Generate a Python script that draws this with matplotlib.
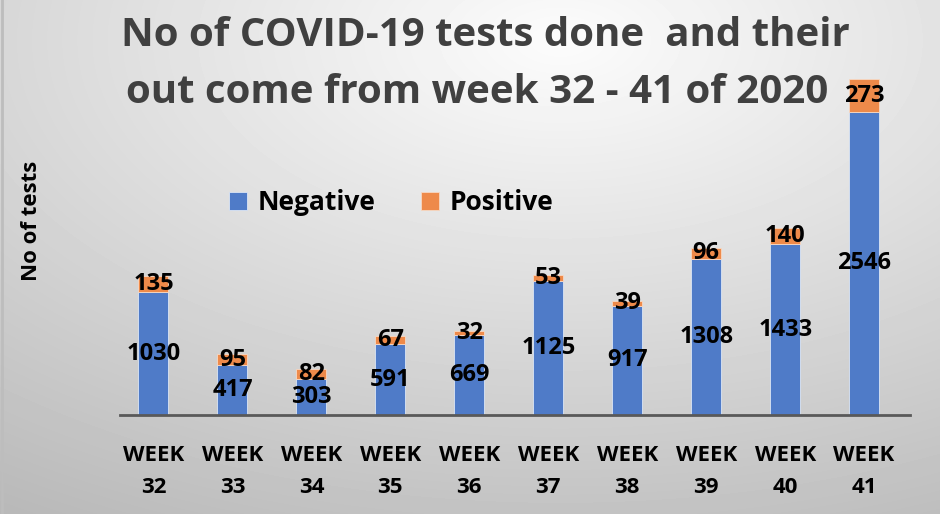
import numpy as np
import matplotlib.pyplot as plt

## Datos
semanas = ['WEEK\n32', 'WEEK\n33', 'WEEK\n34', 'WEEK\n35', 'WEEK\n36',
           'WEEK\n37', 'WEEK\n38', 'WEEK\n39', 'WEEK\n40', 'WEEK\n41']
negativos = [1030, 417, 303, 591, 669, 1125, 917, 1308, 1433, 2546]
positivos = [135, 95, 82, 67, 32, 53, 39, 96, 140, 273]

azul = '#4F7BC8'
naranja = '#EE8A4A'
fuente = ['Open Sans', 'DejaVu Sans']
plt.rcParams['font.family'] = fuente
plt.rcParams['font.weight'] = 'bold'

fig = plt.figure(figsize=(9.4, 5.14), dpi=100)

# fondo degradado (blanco arriba, gris hacia los bordes)
fondo = fig.add_axes([0, 0, 1, 1], zorder=-10)
yy, xx = np.mgrid[0:514, 0:940]
d = np.sqrt(((xx - 560) / 940.0) ** 2 + ((yy - 40) / 514.0) ** 2)
gris = np.clip(252 - 62 * d, 180, 255) / 255.0
fondo.imshow(gris, cmap='gray', vmin=0, vmax=1, aspect='auto', extent=[0, 1, 0, 1])
fondo.plot([0.002, 0.002], [0, 1], color='#bdbdbd', lw=2)
fondo.set_xlim(0, 1)
fondo.set_ylim(0, 1)
fondo.axis('off')

ax = fig.add_axes([0.128, 0.193, 0.84, 0.69])
ax.patch.set_alpha(0)
x = np.arange(len(semanas))
ancho = 0.38
ax.bar(x, negativos, ancho, color=azul, label='Negative', edgecolor='#dce6f5', linewidth=0.6)
ax.bar(x, positivos, ancho, bottom=negativos, color=naranja, label='Positive',
       edgecolor='#f7d9c4', linewidth=0.6)

# etiquetas de valores centradas en cada segmento
for i in range(len(semanas)):
    ax.text(x[i], negativos[i] / 2.0, str(negativos[i]), ha='center', va='center',
            fontsize=17, fontweight='bold', color='black')
    ax.text(x[i], negativos[i] + positivos[i] / 2.0, str(positivos[i]), ha='center',
            va='center', fontsize=17, fontweight='bold', color='black')

ax.set_xlim(-0.42, 9.58)
ax.set_ylim(0, 2980)
ax.set_xticks(x)
ax.set_xticklabels(semanas, fontsize=16, fontweight='bold', linespacing=1.65)
ax.tick_params(axis='x', length=0, pad=22)
ax.set_yticks([])
for lado in ['top', 'right', 'left']:
    ax.spines[lado].set_visible(False)
ax.spines['bottom'].set_color('#595959')
ax.spines['bottom'].set_linewidth(2)

fig.text(0.033, 0.57, 'No of tests', rotation=90, ha='center', va='center',
         fontsize=16, fontweight='bold', color='black')

fig.text(0.516, 0.93, 'No of COVID-19 tests done  and their', ha='center', va='center',
         fontsize=29, fontweight='bold', color='#404040')
fig.text(0.508, 0.82, 'out come from week 32 - 41 of 2020', ha='center', va='center',
         fontsize=29, fontweight='bold', color='#404040')

ax.legend(loc='center', bbox_to_anchor=(0.343, 0.598), ncol=2, frameon=False,
          prop={'family': fuente, 'weight': 'bold', 'size': 19},
          handlelength=0.7, handleheight=0.7, handletextpad=0.4, columnspacing=1.7)

plt.savefig('out.png', dpi=100)
